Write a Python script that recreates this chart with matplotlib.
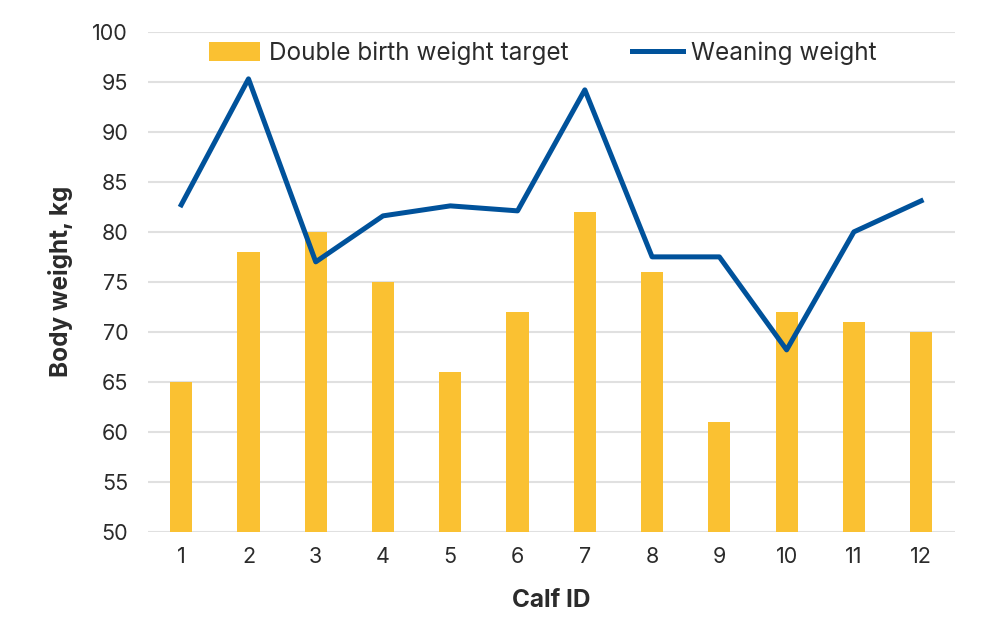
import numpy as np
import matplotlib.pyplot as plt

plt.rcParams['font.family'] = ['Inter', 'DejaVu Sans']

calf_ids = [1, 2, 3, 4, 5, 6, 7, 8, 9, 10, 11, 12]
double_birth = [65, 78, 80, 75, 66, 72, 82, 76, 61, 72, 71, 70]
weaning = [82.7, 95.3, 77, 81.6, 82.6, 82.1, 94.2, 77.5, 77.5, 68.2, 80, 83.1]

bar_color = '#FAC132'
line_color = '#00529B'
text_color = '#2B2B2B'

fig = plt.figure(figsize=(10.04, 6.37), dpi=100)
ax = fig.add_axes([0.147, 0.165, 0.804, 0.785])

x = np.arange(len(calf_ids))
bars = ax.bar(x, double_birth, width=0.33, color=bar_color, label='Double birth weight target', zorder=2)
line, = ax.plot(x, weaning, color=line_color, lw=3.6, label='Weaning weight', zorder=3)

ax.set_ylim(50, 100)
ax.set_xlim(-0.5, len(calf_ids) - 0.5)
ax.set_yticks(np.arange(50, 101, 5))
ax.set_xticks(x)
ax.set_xticklabels([str(c) for c in calf_ids])
ax.grid(axis='y', color='#E0E0E0', lw=1.5, zorder=0)
ax.set_axisbelow(True)
for s in ax.spines.values():
    s.set_visible(False)
ax.tick_params(length=0, labelsize=15.5, colors=text_color, pad=11)
ax.tick_params(axis='y', pad=14)

ax.set_xlabel('Calf ID', fontsize=17.5, fontweight='bold', color=text_color, labelpad=16)
ax.set_ylabel('Body weight, kg', fontsize=17.5, fontweight='bold', color=text_color, labelpad=14)

leg = ax.legend([bars, line], ['Double birth weight target', 'Weaning weight'],
                loc='upper center', bbox_to_anchor=(0.49, 1.025), ncol=2, frameon=False,
                fontsize=17.5, handlelength=2.1, handleheight=0.8, columnspacing=2.6,
                handletextpad=0.35)
for t in leg.get_texts():
    t.set_color(text_color)

fig.savefig('out.png', dpi=100)
